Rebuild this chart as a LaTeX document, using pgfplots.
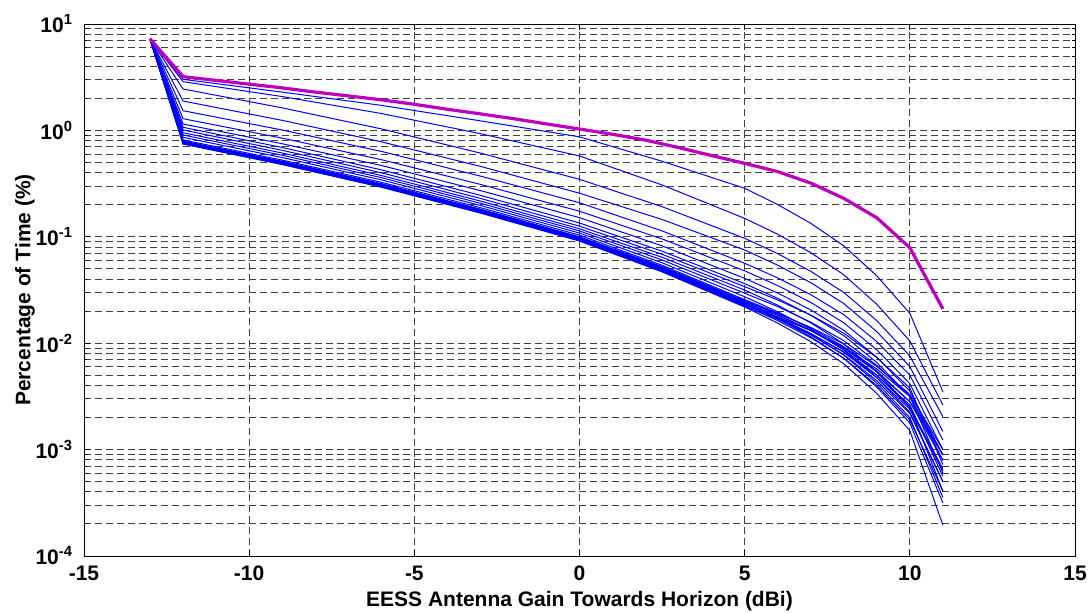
\documentclass[border=0pt]{standalone}
\usepackage{fontspec}
\setmainfont{Liberation Sans}
\usepackage{pgfplots}
\usepackage{pgfplotstable}
\pgfplotsset{compat=1.18}
\definecolor{mag}{RGB}{190,0,190}

% one column per blue curve (percentage of time), x = antenna gain
\pgfplotstableread{
x l1 l2 l3 l4 l5 l6 l7 l8 l9 l10 l11 l12 l13 l14 l15 l16 l17 l18 l19 l20 l21 l22 l23 l24
-13 7.23 7.23 7.23 7.23 7.23 7.23 7.23 7.23 7.23 7.23 7.23 7.23 7.23 7.23 7.23 7.23 7.23 7.23 7.23 7.23 7.23 7.23 7.23 7.23
-12 3.02 2.87 2.45 1.888 1.531 1.288 1.148 1.069 1.009 0.951 0.906 0.861 0.813 0.794 0.789 0.783 0.778 0.773 0.769 0.764 0.759 0.753 0.748 0.745
-9 2.29 2.08 1.629 1.243 1.009 0.846 0.750 0.691 0.650 0.613 0.584 0.556 0.526 0.513 0.509 0.505 0.501 0.498 0.495 0.491 0.488 0.484 0.480 0.4775
-6 1.72 1.442 1.034 0.782 0.635 0.531 0.468 0.426 0.400 0.377 0.360 0.343 0.3255 0.3162 0.3136 0.3112 0.3087 0.3062 0.3041 0.3017 0.2992 0.2968 0.2944 0.2924
-3 1.23 0.932 0.612 0.459 0.372 0.311 0.272 0.2455 0.2296 0.2168 0.2067 0.1972 0.188 0.182 0.1803 0.1789 0.1773 0.1758 0.1744 0.173 0.1714 0.1699 0.1685 0.1671
0 0.87 0.575 0.347 0.257 0.209 0.174 0.1514 0.1349 0.1259 0.1189 0.1135 0.1084 0.1035 0.1 0.0991 0.0982 0.0973 0.0964 0.0955 0.0946 0.0938 0.0929 0.092 0.0912
2.5 0.513 0.307 0.192 0.1455 0.1136 0.0955 0.0822 0.0733 0.0685 0.0642 0.0606 0.057 0.054 0.0525 0.0519 0.0513 0.0507 0.0501 0.0495 0.049 0.0484 0.0479 0.0473 0.0468
5 0.286 0.149 0.0968 0.0752 0.0564 0.0479 0.0407 0.0363 0.034 0.0316 0.0295 0.02735 0.0257 0.0251 0.02477 0.02443 0.0241 0.02377 0.02344 0.02312 0.0228 0.02249 0.02218 0.02188
6 0.201 0.1057 0.0695 0.0541 0.0411 0.0348 0.0296 0.0264 0.0255 0.02275 0.0221 0.01977 0.01928 0.01862 0.01905 0.01764 0.01824 0.01697 0.01743 0.01702 0.01764 0.01632 0.01681 0.01545
7 0.134 0.071 0.0474 0.0371 0.0286 0.0242 0.02056 0.01832 0.0184 0.01556 0.01578 0.01358 0.01384 0.01318 0.01409 0.01212 0.01321 0.0115 0.01238 0.01194 0.01312 0.01127 0.01221 0.01035
8 0.0822 0.044 0.03 0.0236 0.01854 0.01556 0.01324 0.0118 0.01242 0.00986 0.01057 0.00865 0.00929 0.00871 0.00982 0.00772 0.00897 0.00721 0.00822 0.00782 0.00919 0.00723 0.00832 0.0064
9 0.043 0.0232 0.0163 0.01285 0.01035 0.00867 0.00738 0.00658 0.00733 0.00537 0.00618 0.00474 0.00547 0.00501 0.00605 0.00423 0.00537 0.00387 0.00475 0.00444 0.00572 0.004 0.00499 0.00337
10 0.0191 0.0105 0.00759 0.00603 0.00501 0.00417 0.00355 0.00316 0.0038 0.00251 0.00316 0.00224 0.00282 0.00251 0.00331 0.002 0.00282 0.00178 0.0024 0.00219 0.00316 0.0019 0.00263 0.00151
11 0.0035 0.00263 0.00204 0.00148 0.00123 0.001 0.000891 0.000794 0.000724 0.000661 0.000603 0.000501 0.000891 0.000407 0.001 0.000355 0.000794 0.000316 0.000631 0.000501 0.000891 0.000407 0.000562 0.000195
}\curves

% envelope (magenta)
\pgfplotstableread{
x y
-13 7.23
-12 3.20
-11 2.95
-10 2.72
-9 2.51
-8 2.29
-7 2.11
-6 1.94
-5 1.76
-4 1.58
-3 1.43
-2 1.29
-1 1.15
0 1.03
1 0.92
2 0.81
3 0.69
4 0.58
5 0.49
6 0.41
7 0.32
8 0.23
9 0.151
10 0.079
11 0.021
}\envelope

\begin{document}
\begin{tikzpicture}
\begin{axis}[
  scale only axis, width=495.5pt, height=266pt,
  xmin=-15, xmax=15, ymin=1e-4, ymax=10, ymode=log,
  xtick={-15,-10,-5,0,5,10,15},
  xticklabels={-15,-10,-5,0,5,10,15},
  ytick={1e-4,1e-3,1e-2,1e-1,1,10},
  yticklabels={10\textsuperscript{-4},10\textsuperscript{-3},10\textsuperscript{-2},10\textsuperscript{-1},10\textsuperscript{0},10\textsuperscript{1}},
  minor ytick={2e-4,3e-4,4e-4,5e-4,6e-4,7e-4,8e-4,9e-4,
               2e-3,3e-3,4e-3,5e-3,6e-3,7e-3,8e-3,9e-3,
               2e-2,3e-2,4e-2,5e-2,6e-2,7e-2,8e-2,9e-2,
               0.2,0.3,0.4,0.5,0.6,0.7,0.8,0.9,
               2,3,4,5,6,7,8,9},
  tick label style={font=\fontsize{10.5}{12}\selectfont\bfseries},
  label style={font=\fontsize{10.5}{12}\selectfont\bfseries},
  xticklabel style={yshift=-1.5pt},
  yticklabel style={xshift=-2pt},
  grid=both,
  major grid style={black!75, dash pattern=on 3.5pt off 2pt, line width=0.5pt},
  minor grid style={black!75, dash pattern=on 3.5pt off 2pt, line width=0.5pt},
  tick align=inside,
  major tick length=3pt, minor tick length=1.6pt,
  every tick/.style={black, line width=0.5pt},
  axis line style={line width=0.5pt},
  xlabel={EESS Antenna Gain Towards Horizon (dBi)},
  ylabel={Percentage of Time (\%)},
  xlabel style={at={(axis description cs:0.5,-0.085)}, anchor=center},
  ylabel style={at={(axis description cs:-0.0595,0.5)}, anchor=center},
]
\pgfplotsinvokeforeach{1,...,24}{
  \addplot[blue, line width=0.5pt] table[x=x, y=l#1] {\curves};
}
\addplot[mag, line width=1.6pt] table[x=x, y=y] {\envelope};
\end{axis}
\pgfresetboundingbox
\path[use as bounding box] ([shift={(-42pt,-28pt)}]current axis.south west) rectangle ([shift={(8pt,12pt)}]current axis.north east);
\end{tikzpicture}
\end{document}
